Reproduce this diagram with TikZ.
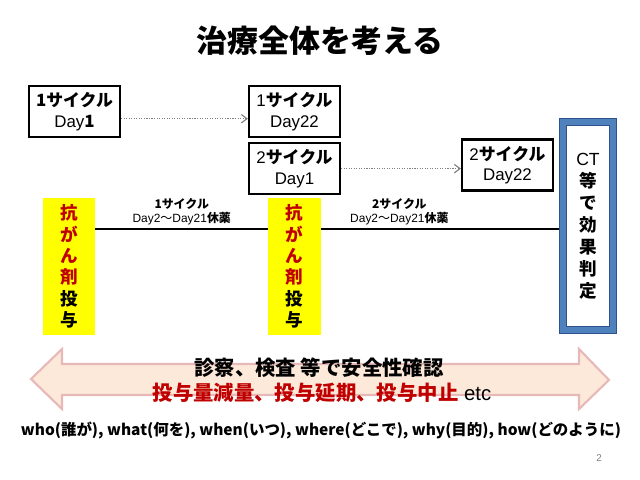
\documentclass[tikz,border=0pt]{standalone}
\usepackage{fontspec}
\setmainfont{Liberation Sans}
\newfontfamily\jp{Noto Sans CJK JP}
\newcommand{\pop}{\jp\bfseries}
\definecolor{MainRed}{RGB}{192, 0, 0}
\definecolor{DoseYellow}{RGB}{255, 255, 0}
\definecolor{BoxBlue}{RGB}{79, 129, 189}
\definecolor{BoxBlueDark}{RGB}{47, 82, 143}
\definecolor{ArrowFill}{RGB}{253, 233, 217}
\definecolor{ArrowLine}{RGB}{230, 185, 184}
\definecolor{DotGray}{RGB}{128, 128, 128}
\usepackage{tikz}
\usetikzlibrary{arrows.meta, positioning}

\begin{document}
\begin{tikzpicture}[x=0.025cm, y=-0.025cm]
        \tikzstyle{cyclebox} = [rectangle, draw=black, line width=1.5pt, fill=white, minimum width=2.275cm, minimum height=1.275cm, inner sep=0pt, align=center, font=\fontsize{12}{14.5}\selectfont]
        \tikzstyle{dosebox} = [rectangle, fill=DoseYellow, minimum width=1.3cm, minimum height=3.425cm, inner sep=0pt, align=center, text=MainRed, font=\fontsize{12.5}{15.2}\selectfont\pop]
        \tikzstyle{judgebox} = [rectangle, draw=BoxBlueDark, line width=0.8pt, double=BoxBlue, double distance=0.15cm, fill=white, minimum width=1.25cm, minimum height=5.2cm, inner sep=0pt, outer sep=0.1cm, align=center, font=\fontsize{12.5}{15.6}\selectfont]
        \tikzstyle{dotarrow} = [-{Straight Barb[length=4pt, width=6pt]}, densely dotted, DotGray, line width=0.8pt]
        \tikzstyle{mainline} = [line width=2pt, black]
        \tikzstyle{restlabel} = [above, align=center, inner sep=2pt, font=\fontsize{8.5}{10}\selectfont]

        \useasboundingbox (0,0) rectangle (640,480);

        % Title
        \node (title) at (320,41) [font=\fontsize{22}{26}\selectfont\pop] {治療全体を考える};

        % Cycle boxes
        \node (dayone) at (74.5,111.5) [cyclebox] {{\pop 1サイクル}\\Day{\pop 1}};
        \node (cycleoneend) at (294.5,111.5) [cyclebox] {1{\pop サイクル}\\Day22};
        \node (cycletwostart) [cyclebox, below=0.1cm of cycleoneend] {2{\pop サイクル}\\Day1};
        \node (cycletwoend) at (507.5,165) [cyclebox] {2{\pop サイクル}\\Day22};

        % Dose and judgement boxes
        \node (doseone) at (69,266.5) [dosebox] {抗\\が\\ん\\剤\\\textcolor{black}{投}\\\textcolor{black}{与}};
        \node (dosetwo) at (294.5,266.5) [dosebox] {抗\\が\\ん\\剤\\\textcolor{black}{投}\\\textcolor{black}{与}};
        \node (judge) at (588,226) [judgebox] {CT\\{\pop 等}\\{\pop で}\\{\pop 効}\\{\pop 果}\\{\pop 判}\\{\pop 定}};

        % Arrows
        \draw [dotarrow] ([yshift=-0.18cm]dayone.east) -- ([yshift=-0.18cm]cycleoneend.west);
        \draw [dotarrow] (cycletwostart.east) -- (cycletwostart.east -| cycletwoend.west);

        % Rest periods
        \coordinate (restline) at (0,229);
        \draw [mainline] (doseone.east |- restline) -- node[restlabel] {{\pop 1サイクル}\\Day2{\jp ～}Day21{\pop 休薬}} (dosetwo.west |- restline);
        \draw [mainline] (dosetwo.east |- restline) -- node[restlabel, pos=0.33] {{\pop 2サイクル}\\Day2{\jp ～}Day21{\pop 休薬}} (judge.west |- restline);

        % Safety checks
        \draw [fill=ArrowFill, draw=ArrowLine, line width=1.5pt] (31,379) -- (62,349) -- (62,364) -- (579,364) -- (579,349) -- (609,380) -- (579,409) -- (579,395) -- (62,395) -- (62,409) -- cycle;
        \node (safety) at (319,368) [font=\fontsize{14.5}{17}\selectfont\pop] {診察、検査 等で安全性確認};
        \node (adjust) at (322,393) [font=\fontsize{14.5}{17}\selectfont] {\textcolor{MainRed}{\pop 投与量減量、投与延期、投与中止} etc};
        \node (fivew) at (321,430) [font=\fontsize{11}{13}\selectfont\pop] {who(誰が), what(何を), when(いつ), where(どこで), why(目的), how(どのように)};

        \node (pagenum) at (599,458) [text=DotGray, font=\fontsize{7}{8}\selectfont] {2};
    \end{tikzpicture}
\end{document}
